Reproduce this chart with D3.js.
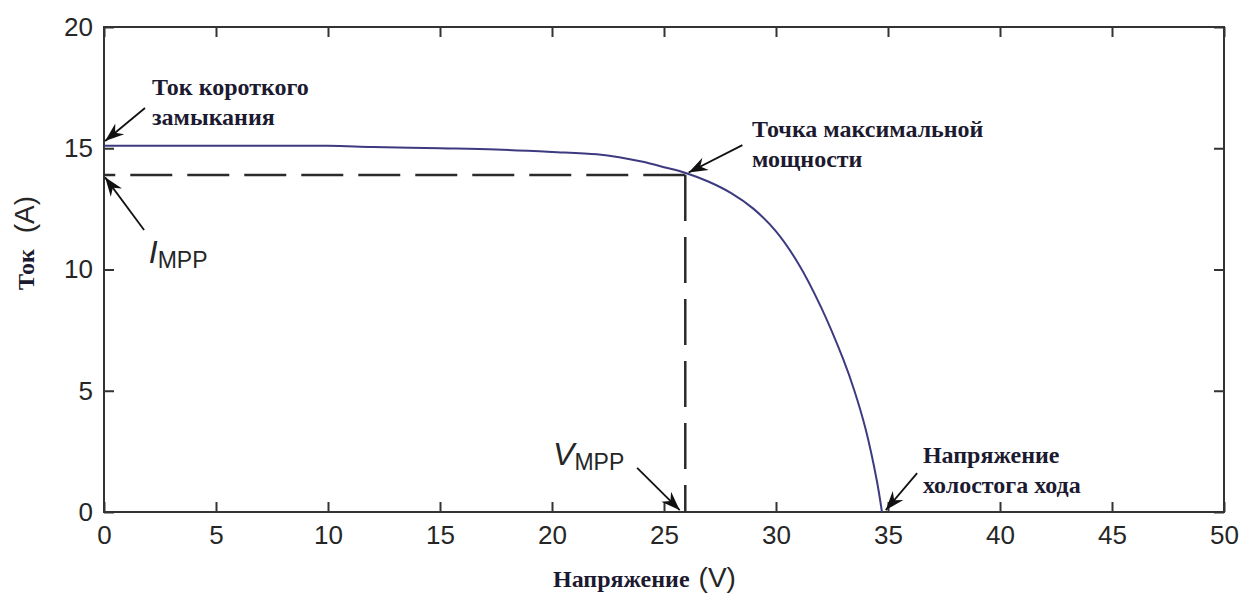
<!DOCTYPE html>
<html>
<head>
<meta charset="utf-8">
<script src="https://cdn.jsdelivr.net/npm/d3@7"></script>
<style>
    body { margin: 0; background: #fff; }
    .tick text { font-family: "Liberation Sans", Arial, sans-serif; font-size: 26px; fill: #262626; }
    .note { font-family: "Liberation Serif", "Times New Roman", serif; font-weight: bold; font-size: 24px; fill: #1c1a30; }
    .sans { font-family: "Liberation Sans", Arial, sans-serif; fill: #262626; }
</style>
</head>
<body>
<svg id="chart" width="1247" height="597"></svg>
<script>
// I-V curve of a PV module
const VOLTAGE = [0, 5, 10, 12, 15, 17.5, 20, 22, 23, 24, 25, 26, 27, 28, 29, 30, 31, 32, 33, 33.5, 34, 34.5, 34.73];
const CURRENT = [15.1, 15.1, 15.1, 15.05, 15.0, 14.95, 14.85, 14.75, 14.63, 14.45, 14.22, 13.97, 13.62, 13.15, 12.5, 11.57, 10.24, 8.47, 6.3, 5.0, 3.42, 1.3, 0];

const MPP = [25.95, 13.9];   // V_MPP, I_MPP
const X_TICKS = [0, 5, 10, 15, 20, 25, 30, 35, 40, 45, 50];
const Y_TICKS = [0, 5, 10, 15, 20];

// arrows: tail -> tip, in data units (V, A)
const ARROWS = [
    {from: [1.83, 16.66], to: [0.05, 15.3]},
    {from: [1.79, 11.63], to: [0.05, 13.8]},
    {from: [28.5, 15.13], to: [26.1, 14.0]},
    {from: [23.8, 1.82], to: [25.7, 0.08]},
    {from: [36.3, 1.6], to: [34.9, 0.08]}
];
const NOTES = [
    {at: [2.14, 17.2], lines: ["Ток короткого", "замыкания"]},
    {at: [28.93, 15.46], lines: ["Точка максимальной", "мощности"]},
    {at: [36.56, 2.02], lines: ["Напряжение", "холостога хода"]}
];
// subscripted labels: main letter + subscript, anchored in data units
const SUB_LABELS = [
    {at: [2.0, 10.27], main: "I", sub: "MPP"},
    {at: [20.05, 1.94], main: "V", sub: "MPP"}
];

const svg = d3.select("#chart");
const margin = {left: 104, top: 27, right: 23, bottom: 85};
const width = +svg.attr("width"), height = +svg.attr("height");

const x = d3.scaleLinear().domain([0, 50]).range([margin.left, width - margin.right]);
const y = d3.scaleLinear().domain([0, 20]).range([height - margin.bottom, margin.top]);

// arrow head
svg.append("defs").append("marker")
    .attr("id", "head")
    .attr("viewBox", "-20 -9 21 18")
    .attr("refX", 0).attr("refY", 0)
    .attr("markerUnits", "userSpaceOnUse")
    .attr("markerWidth", 21).attr("markerHeight", 18)
    .attr("orient", "auto")
    .append("path")
    .attr("d", "M0,0 L-19,-7 L-13,0 L-19,7 Z")
    .attr("fill", "#111");

// axes: ticks inside on all four sides
const axisStyle = g => {
    g.select(".domain").remove();
    g.selectAll(".tick line").attr("stroke", "#333").attr("stroke-width", 2);
};
svg.append("g")
    .attr("transform", `translate(0,${y(0)})`)
    .call(d3.axisBottom(x).tickValues(X_TICKS).tickSizeInner(-10).tickSizeOuter(0).tickPadding(14))
    .call(axisStyle);
svg.append("g")
    .attr("transform", `translate(0,${y(20)})`)
    .call(d3.axisTop(x).tickValues(X_TICKS).tickSizeInner(-10).tickSizeOuter(0).tickFormat(""))
    .call(axisStyle);
svg.append("g")
    .attr("transform", `translate(${x(0)},0)`)
    .call(d3.axisLeft(y).tickValues(Y_TICKS).tickSizeInner(-10).tickSizeOuter(0).tickPadding(11))
    .call(axisStyle);
svg.append("g")
    .attr("transform", `translate(${x(50)},0)`)
    .call(d3.axisRight(y).tickValues(Y_TICKS).tickSizeInner(-10).tickSizeOuter(0).tickFormat(""))
    .call(axisStyle);

svg.append("rect")
    .attr("x", x(0)).attr("y", y(20))
    .attr("width", x(50) - x(0)).attr("height", y(0) - y(20))
    .attr("fill", "none").attr("stroke", "#333").attr("stroke-width", 2);

// MPP dashed guides (drawn from the MPP outward)
svg.append("path")
    .attr("d", d3.line()([[x(MPP[0]), y(MPP[1])], [x(0), y(MPP[1])]]))
    .attr("fill", "none").attr("stroke", "#2b2b2b").attr("stroke-width", 2.5)
    .attr("stroke-dasharray", "42,15");
svg.append("path")
    .attr("d", d3.line()([[x(MPP[0]), y(MPP[1])], [x(MPP[0]), y(0)]]))
    .attr("fill", "none").attr("stroke", "#2b2b2b").attr("stroke-width", 2.5)
    .attr("stroke-dasharray", "46,16");

// the I-V curve
const points = VOLTAGE.map((v, i) => [v, CURRENT[i]]);
svg.append("path")
    .datum(points)
    .attr("d", d3.line().x(d => x(d[0])).y(d => y(d[1])).curve(d3.curveCatmullRom.alpha(0.5)))
    .attr("fill", "none")
    .attr("stroke", "#3d3a80")
    .attr("stroke-width", 2);

// arrows
svg.selectAll("line.arrow")
    .data(ARROWS)
    .enter()
    .append("line")
    .attr("class", "arrow")
    .attr("x1", d => x(d.from[0])).attr("y1", d => y(d.from[1]))
    .attr("x2", d => x(d.to[0])).attr("y2", d => y(d.to[1]))
    .attr("stroke", "#111").attr("stroke-width", 1.8)
    .attr("marker-end", "url(#head)");

// annotations
NOTES.forEach(n => {
    let t = svg.append("text").attr("class", "note")
        .attr("x", x(n.at[0])).attr("y", y(n.at[1]));
    n.lines.forEach((line, i) => {
        t.append("tspan").attr("x", x(n.at[0])).attr("dy", i === 0 ? 0 : 30).text(line);
    });
});

// I_MPP and V_MPP labels
SUB_LABELS.forEach(l => {
    let t = svg.append("text").attr("class", "sans")
        .attr("x", x(l.at[0])).attr("y", y(l.at[1]));
    t.append("tspan").attr("font-style", "italic").attr("font-size", 32).text(l.main);
    t.append("tspan").attr("font-size", 23).attr("dy", 5).text(l.sub);
});

// axis titles
let xTitle = svg.append("text").attr("x", 553).attr("y", 587);
xTitle.append("tspan").attr("class", "note").text("Напряжение");
xTitle.append("tspan").attr("class", "sans").attr("font-size", 28).attr("dx", 9).text("(V)");

let yTitle = svg.append("text").attr("transform", "translate(34,290) rotate(-90)");
yTitle.append("tspan").attr("class", "note").text("Ток");
yTitle.append("tspan").attr("class", "sans").attr("font-size", 28).attr("dx", 16).text("(A)");
</script>
</body>
</html>
